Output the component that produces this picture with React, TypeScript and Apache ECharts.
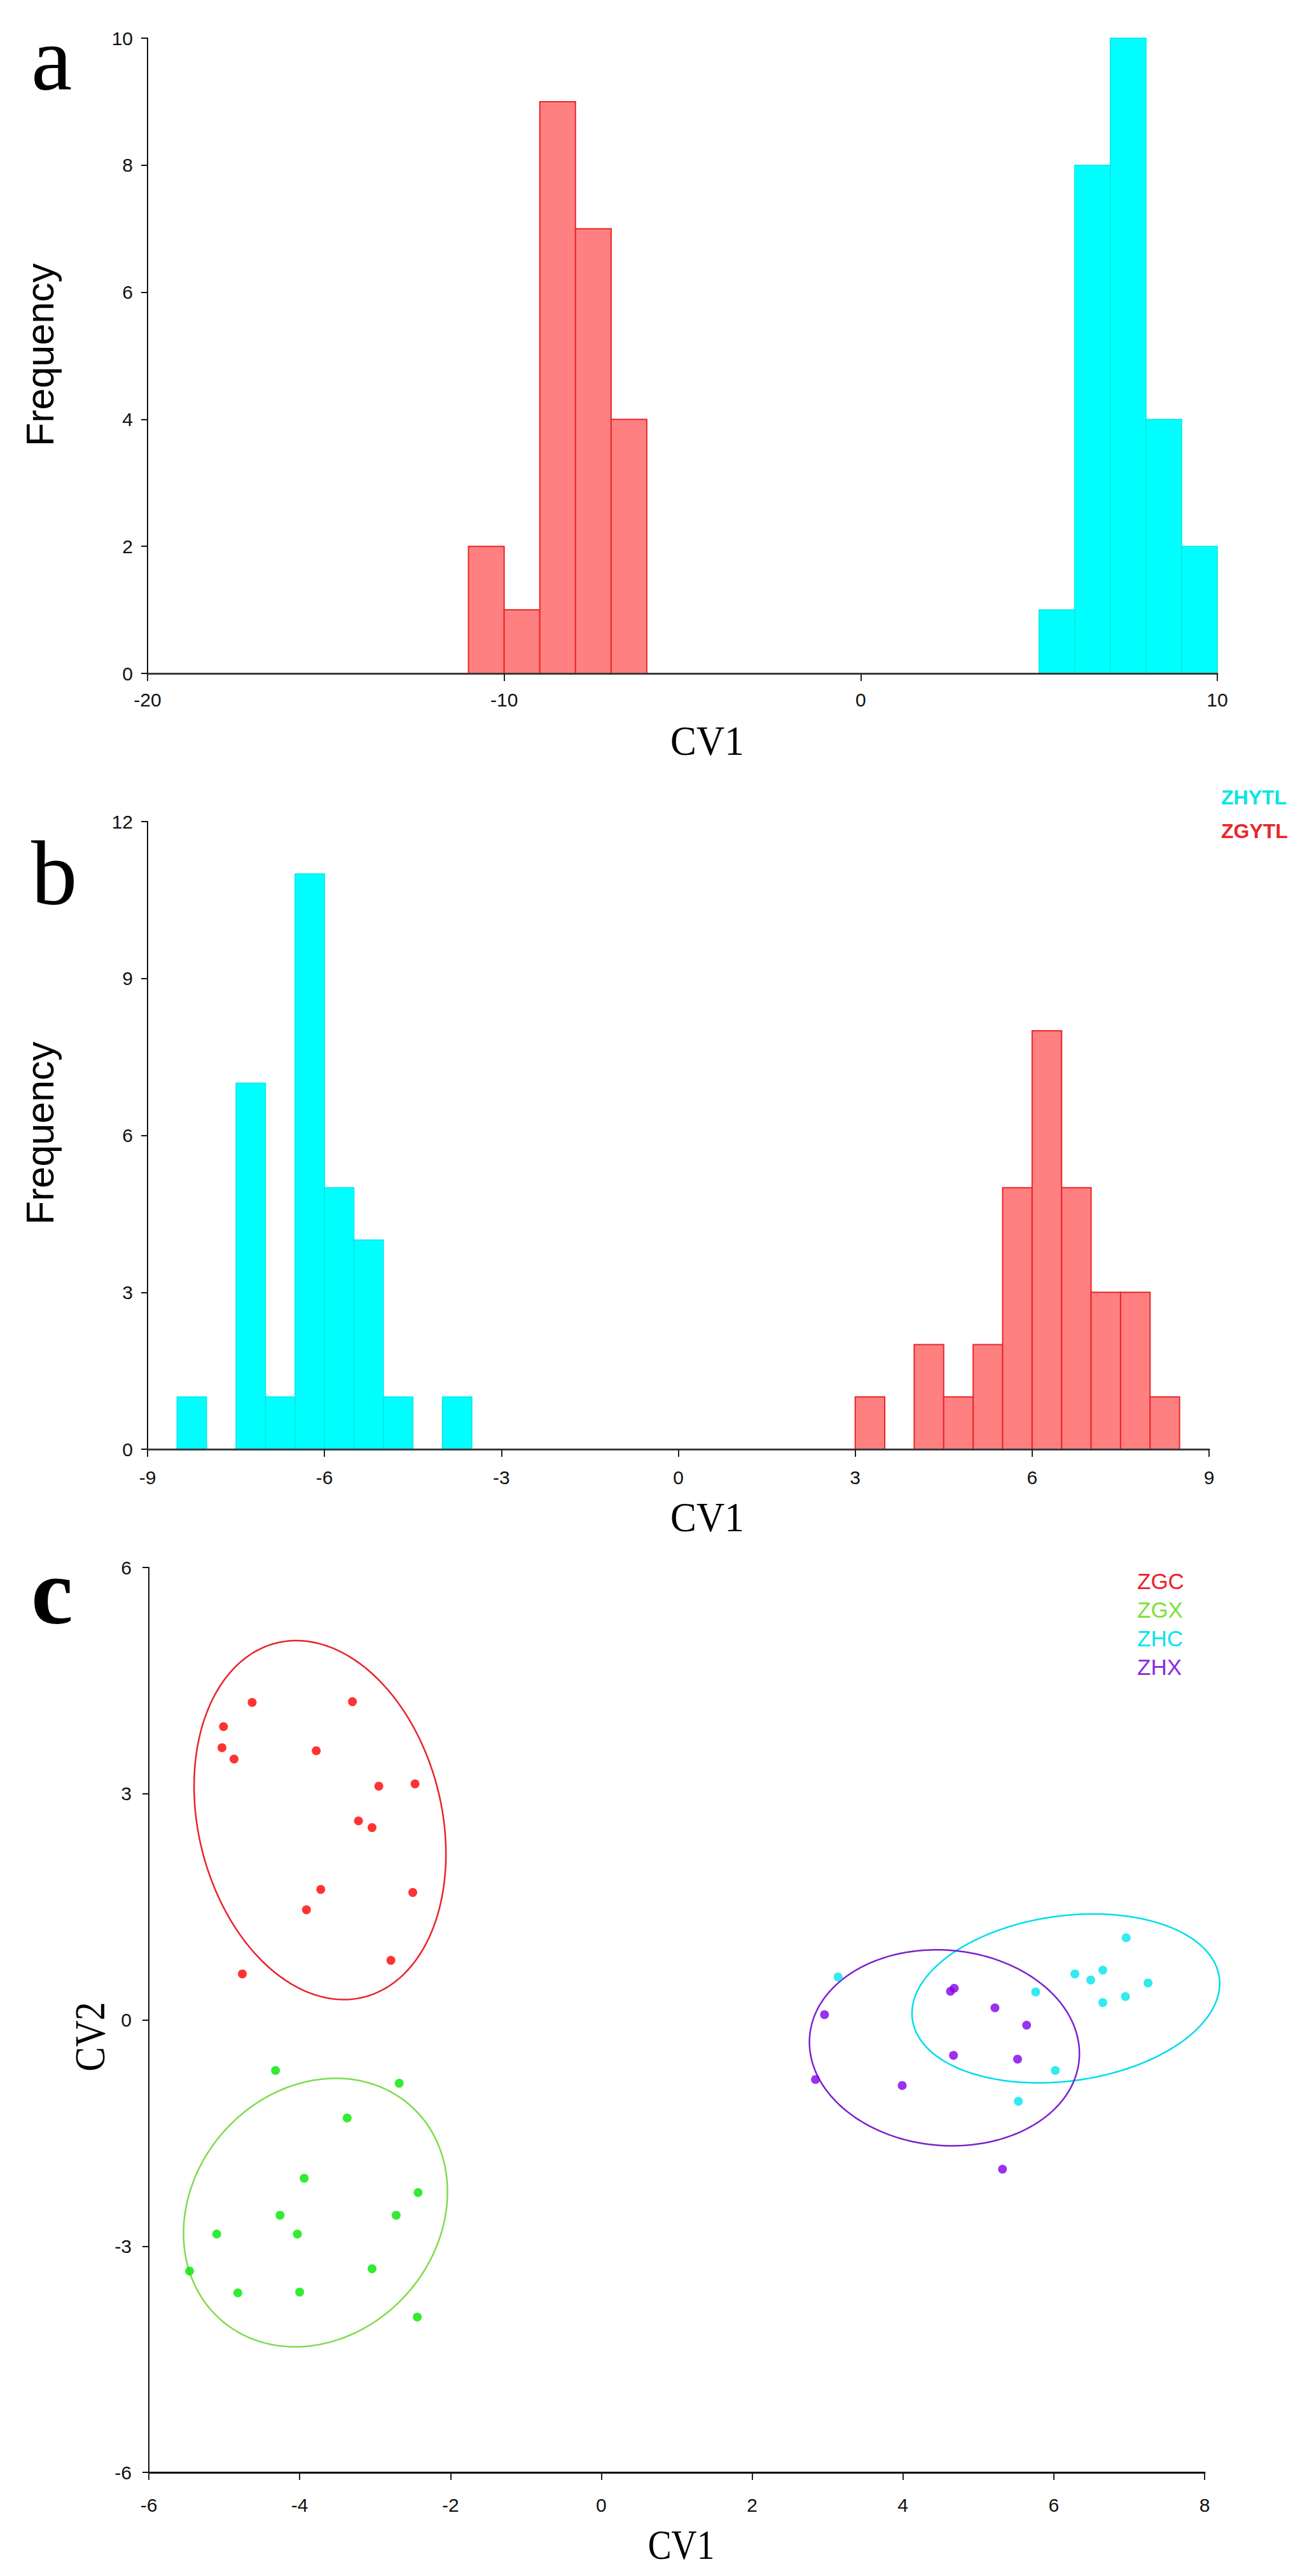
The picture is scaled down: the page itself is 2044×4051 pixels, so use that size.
import React, { useEffect, useRef } from "react";
import * as echarts from "echarts";

const SANS = '"Liberation Sans", Arial, Helvetica, sans-serif';
const SERIF = '"Liberation Serif", "Times New Roman", Times, serif';

// ---------- Panel a: histogram of CV1 ----------
const aXRange = [-20, 10];
const aXInterval = 10;
const aYRange = [0, 10];
const aYInterval = 2;
const aBinWidth = 1;
const aZGYTLBinStart = [-11, -10, -9, -8, -7];
const aZGYTLCount = [2, 1, 9, 7, 4];
const aZHYTLBinStart = [5, 6, 7, 8, 9];
const aZHYTLCount = [1, 8, 10, 4, 2];

// ---------- Panel b: histogram of CV1 ----------
const bXRange = [-9, 9];
const bXInterval = 3;
const bYRange = [0, 12];
const bYInterval = 3;
const bBinWidth = 0.5;
const bZHYTLBinStart = [-8.5, -7.5, -7, -6.5, -6, -5.5, -5, -4];
const bZHYTLCount = [1, 7, 1, 11, 5, 4, 1, 1];
const bZGYTLBinStart = [3, 4, 4.5, 5, 5.5, 6, 6.5, 7, 7.5, 8];
const bZGYTLCount = [1, 2, 1, 2, 5, 8, 5, 3, 3, 1];
const bLegendNames = ["ZHYTL", "ZGYTL"];

// ---------- Panel c: CV1 vs CV2 scatter ----------
const cXRange = [-6, 8];
const cXInterval = 2;
const cYRange = [-6, 6];
const cYInterval = 3;
const groupNames = ["ZGC", "ZGX", "ZHC", "ZHX"];

const zgcCV1 = [-4.63, -3.3, -5.01, -5.03, -4.87, -3.78, -2.95, -2.47, -3.22, -3.04, -3.72, -2.5, -3.91, -2.79, -4.76];
const zgcCV2 = [4.21, 4.22, 3.89, 3.61, 3.46, 3.57, 3.1, 3.13, 2.64, 2.55, 1.73, 1.69, 1.46, 0.79, 0.61];

const zgxCV1 = [-4.32, -2.68, -3.37, -3.94, -2.43, -4.26, -2.72, -5.1, -4.03, -5.46, -3.04, -4.82, -4.0, -2.44];
const zgxCV2 = [-0.67, -0.84, -1.3, -2.1, -2.29, -2.59, -2.59, -2.84, -2.84, -3.33, -3.3, -3.62, -3.61, -3.94];

const zhcCV1 = [3.14, 6.28, 6.65, 6.49, 7.25, 5.76, 6.95, 6.65, 6.02, 5.53, 6.96];
const zhcCV2 = [0.57, 0.61, 0.66, 0.53, 0.49, 0.37, 0.31, 0.23, -0.67, -1.08, 1.09];

const zhxCV1 = [4.68, 4.63, 5.22, 2.96, 5.64, 4.67, 5.52, 2.84, 3.99, 5.32];
const zhxCV2 = [0.42, 0.38, 0.16, 0.07, -0.07, -0.47, -0.52, -0.79, -0.87, -1.98];

// confidence ellipses: centre, half-extent along CV1 / CV2, covariance term
const ellipseCX = [-3.73, -3.79, 6.16, 4.55];
const ellipseCY = [2.65, -2.555, 0.285, -0.37];
const ellipseSX = [1.67, 1.75, 2.04, 1.79];
const ellipseSY = [2.38, 1.78, 1.12, 1.3];
const ellipseSXY = [-0.75, 0.48, 0.405, -0.135];

const pointColors = ["#FF0000", "#00E600", "#00E5EE", "#7F00E8"];
const ellipseColors = ["#E8222A", "#7EDB4A", "#00DDEB", "#7A22CC"];
const legendColors = ["#E8222A", "#7EE03A", "#00E5EE", "#8A2BE2"];

const RED_FILL = "#FF8080";
const RED_STROKE = "#E8262A";
const CYAN_FILL = "#00FFFF";
const CYAN_STROKE = "#00E6E6";

function histSeries(name: string, starts: number[], counts: number[], width: number, idx: number, fill: string, stroke: string, lw: number) {
  return {
    type: "custom",
    name,
    xAxisIndex: idx,
    yAxisIndex: idx,
    data: starts.map((s, i) => [s, s + width, counts[i]]),
    encode: { x: [0, 1], y: 2 },
    clip: false,
    z: 2,
    renderItem: (params: any, api: any) => {
      const p0 = api.coord([api.value(0), api.value(2)]);
      const p1 = api.coord([api.value(1), 0]);
      return {
        type: "rect",
        shape: { x: p0[0], y: p0[1], width: p1[0] - p0[0], height: p1[1] - p0[1] },
        style: { fill, stroke, lineWidth: lw },
      };
    },
  };
}

function ellipseSeries(g: number) {
  return {
    type: "custom",
    name: groupNames[g] + " ellipse",
    xAxisIndex: 2,
    yAxisIndex: 2,
    silent: true,
    clip: false,
    z: 3,
    data: [[ellipseCX[g], ellipseCY[g], ellipseSX[g], ellipseSY[g], ellipseSXY[g]]],
    encode: { x: 0, y: 1 },
    renderItem: (params: any, api: any) => {
      const cx = api.value(0);
      const cy = api.value(1);
      const l11 = api.value(2);
      const l21 = api.value(4) / l11;
      const sy = api.value(3);
      const l22 = Math.sqrt(sy * sy - l21 * l21);
      const pts: number[][] = [];
      const n = 240;
      for (let k = 0; k <= n; k++) {
        const t = (k / n) * Math.PI * 2;
        const c = Math.cos(t);
        const s = Math.sin(t);
        pts.push(api.coord([cx + l11 * c, cy + l21 * c + l22 * s]));
      }
      return {
        type: "polyline",
        shape: { points: pts },
        style: { fill: "none", stroke: ellipseColors[g], lineWidth: 2.5 },
      };
    },
  };
}

function xAxisCfg(idx: number, range: number[], interval: number, lineColor: string, margin: number) {
  return {
    gridIndex: idx,
    type: "value",
    min: range[0],
    max: range[1],
    interval,
    z: 5,
    axisLine: { show: true, onZero: false, lineStyle: { color: lineColor, width: 3 } },
    axisTick: { show: true, length: 12, lineStyle: { color: "#222", width: 2 } },
    axisLabel: { fontSize: 30, color: "#111", margin, fontFamily: SANS },
    splitLine: { show: false },
  };
}

function yAxisCfg(idx: number, range: number[], interval: number, margin: number) {
  return {
    gridIndex: idx,
    type: "value",
    min: range[0],
    max: range[1],
    interval,
    z: 5,
    axisLine: { show: true, onZero: false, lineStyle: { color: "#111", width: 2 } },
    axisTick: { show: true, length: 10, lineStyle: { color: "#111", width: 2 } },
    axisLabel: { fontSize: 30, color: "#111", margin, fontFamily: SANS },
    splitLine: { show: false },
  };
}

function txt(text: string, x: number, y: number, font: string, fill: string, align: string, extra: any = {}) {
  return {
    type: "text",
    x,
    y,
    silent: true,
    z: 10,
    ...extra,
    style: { text, font, fill, textAlign: align, textVerticalAlign: "middle" },
  };
}

export default function App() {
  const ref = useRef<HTMLDivElement>(null);

  useEffect(() => {
    if (!ref.current) return;
    const chart = echarts.init(ref.current, undefined, { renderer: "svg" });

    const groupsX = [zgcCV1, zgxCV1, zhcCV1, zhxCV1];
    const groupsY = [zgcCV2, zgxCV2, zhcCV2, zhxCV2];

    const scatterSeries = groupNames.map((name, g) => ({
      type: "scatter",
      name,
      xAxisIndex: 2,
      yAxisIndex: 2,
      data: groupsX[g].map((x, i) => [x, groupsY[g][i]]),
      symbolSize: 14,
      itemStyle: { color: pointColors[g] },
      z: 4,
    }));

    const option: any = {
      animation: false,
      backgroundColor: "#ffffff",
      grid: [
        { left: 232, top: 60, width: 1682, height: 999, outerBoundsMode: "none" },
        { left: 232, top: 1292, width: 1669, height: 987, outerBoundsMode: "none" },
        { left: 234, top: 2465, width: 1660, height: 1423, outerBoundsMode: "none" },
      ],
      xAxis: [
        xAxisCfg(0, aXRange, aXInterval, "#3a3a3a", 26),
        xAxisCfg(1, bXRange, bXInterval, "#3a3a3a", 29),
        xAxisCfg(2, cXRange, cXInterval, "#000", 36),
      ],
      yAxis: [
        yAxisCfg(0, aYRange, aYInterval, 23),
        yAxisCfg(1, bYRange, bYInterval, 23),
        yAxisCfg(2, cYRange, cYInterval, 27),
      ],
      series: [
        histSeries("ZGYTL", aZGYTLBinStart, aZGYTLCount, aBinWidth, 0, RED_FILL, RED_STROKE, 2),
        histSeries("ZHYTL", aZHYTLBinStart, aZHYTLCount, aBinWidth, 0, CYAN_FILL, CYAN_STROKE, 1.5),
        histSeries("ZHYTL", bZHYTLBinStart, bZHYTLCount, bBinWidth, 1, CYAN_FILL, CYAN_STROKE, 1.5),
        histSeries("ZGYTL", bZGYTLBinStart, bZGYTLCount, bBinWidth, 1, RED_FILL, RED_STROKE, 2),
        ...groupNames.map((_, g) => ellipseSeries(g)),
        ...scatterSeries,
      ],
      graphic: [
        // panel letters
        txt("a", 49, 92, `145px ${SERIF}`, "#000", "left"),
        txt("b", 49, 1373, `145px ${SERIF}`, "#000", "left"),
        txt("c", 49, 2503, `bold 148px ${SERIF}`, "#000", "left"),
        // axis titles
        txt("Frequency", 63, 558, `61px ${SANS}`, "#000", "center", { rotation: Math.PI / 2 }),
        txt("Frequency", 63, 1782, `61px ${SANS}`, "#000", "center", { rotation: Math.PI / 2 }),
        txt("CV1", 1112, 1165, `66px ${SERIF}`, "#000", "center", { scaleX: 0.93 }),
        txt("CV1", 1112, 2386, `66px ${SERIF}`, "#000", "center", { scaleX: 0.93 }),
        txt("CV1", 1071, 4002, `66px ${SERIF}`, "#000", "center", { scaleX: 0.84 }),
        txt("CV2", 141, 3203, `68px ${SERIF}`, "#000", "center", { rotation: Math.PI / 2, scaleX: 0.85 }),
        // legend panel b
        txt(bLegendNames[0], 1920, 1254, `bold 32px ${SANS}`, CYAN_STROKE, "left"),
        txt(bLegendNames[1], 1920, 1307, `bold 32px ${SANS}`, RED_STROKE, "left"),
        // legend panel c
        ...groupNames.map((n, g) => txt(n, 1788, 2486 + g * 45, `35px ${SANS}`, legendColors[g], "left")),
      ],
    };

    chart.setOption(option);
    return () => chart.dispose();
  }, []);

  return (
    <div
      ref={ref}
      style={{ position: "absolute", left: 0, top: 0, width: 2044, height: 4051, background: "#fff" }}
    />
  );
}
